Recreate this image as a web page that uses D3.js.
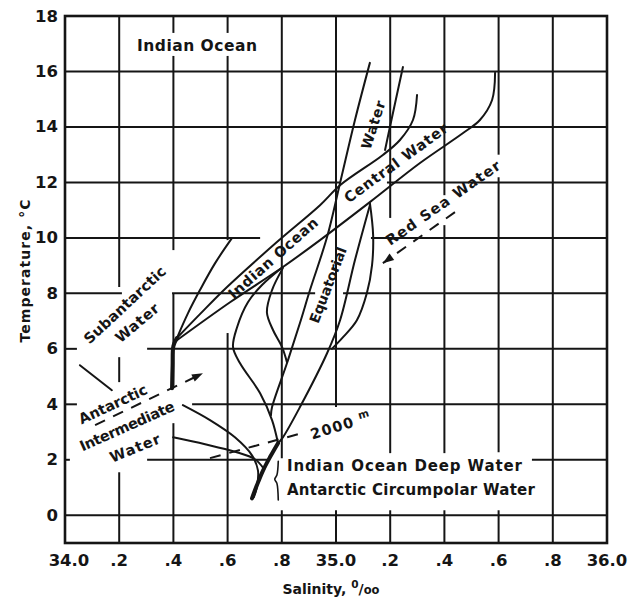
<!DOCTYPE html>
<html><head><meta charset="utf-8">
<script src="https://cdn.jsdelivr.net/npm/d3@7"></script>
<style>
body{margin:0;background:#fff}
svg{display:block}
text{font-family:"DejaVu Sans",sans-serif;fill:#151515;font-weight:bold}
</style>
</head><body>
<svg id="chart" width="633" height="598"></svg>
<script>
// ---------- data (salinity ‰, temperature °C) ----------
const xTicks = [34.0,34.2,34.4,34.6,34.8,35.0,35.2,35.4,35.6,35.8,36.0];
const xTickLabels = ["34.0",".2",".4",".6",".8","35.0",".2",".4",".6",".8","36.0"];
const yTicks = [0,2,4,6,8,10,12,14,16,18];
const yTickLabels = ["0","2","4","6","8","10","12","14","16","18"];

const centralUpper = [[34.413,6.39],[34.498,7.25],[34.598,8.23],[34.782,9.85],[34.941,11.18],[35.015,11.90],[35.173,12.99],[35.236,13.53],[35.284,14.25],[35.299,15.15]];
const centralLower = [[34.413,6.31],[34.609,7.68],[34.804,8.95],[34.941,9.92],[35.125,11.29],[35.310,12.70],[35.469,13.78],[35.531,14.25],[35.576,14.97],[35.587,15.95]];
const subantarctic = [[34.413,6.39],[34.454,7.29],[34.498,8.12],[34.554,9.09],[34.616,9.99]];
const intermediateCore = [[34.413,6.39],[34.400,6.10],[34.397,5.40],[34.395,4.58]];
const equatorialLeft = [[35.125,16.31],[35.070,14.25],[35.015,11.98],[34.967,10.03],[34.904,8.12],[34.867,6.93],[34.819,5.48],[34.764,3.90],[34.760,3.61]];
const equatorialRightUpper = [[35.247,16.16],[35.199,14.00],[35.181,13.17]];
const equatorialRightLower = [[35.125,11.18],[35.070,9.20],[35.015,7.03],[34.967,5.84],[34.867,3.90],[34.804,2.81],[34.786,2.60]];
const redSea = [[35.125,11.26],[35.137,10.10],[35.133,9.02],[35.114,8.01],[35.077,7.03],[35.026,6.42],[34.985,6.00]];
const loopCurve = [[34.804,8.95],[34.727,8.30],[34.675,7.68],[34.635,6.78],[34.620,6.06],[34.646,5.48],[34.720,4.40],[34.764,3.43],[34.786,2.60]];
const lensCurve = [[34.804,8.91],[34.764,8.12],[34.745,7.32],[34.768,6.67],[34.801,6.06],[34.819,5.52]];
const deepWater = [[34.786,2.60],[34.756,2.09],[34.731,1.62],[34.708,1.08],[34.690,0.61]];
const intermediateA = [[34.435,3.97],[34.535,3.43],[34.627,2.81],[34.690,2.16],[34.712,1.62],[34.708,1.01],[34.697,0.65]];
const intermediateB = [[34.399,2.81],[34.517,2.56],[34.627,2.29],[34.701,2.02],[34.735,1.66]];
const depth2000 = [[34.535,2.06],[34.886,2.99]];
const redSeaArrow = [[35.439,10.93],[35.173,9.09]];
const intermediateArrow = [[34.111,3.25],[34.509,5.12]];
const leader = [[34.055,5.41],[34.173,4.51]];
const brace = [[34.787,1.95],[34.782,1.45],[34.774,1.30],[34.782,1.15],[34.787,0.55]];

// grid segments: vertical [S, Tfrom, Tto], horizontal [T, Sfrom, Sto]
const vGrid = [
  [34.2,18,8.23],[34.2,5.70,4.80],[34.2,1.55,-1],
  [34.4,18,17.39],[34.4,16.56,9.56],[34.4,8.01,4.58],[34.4,3.32,-1],
  [34.6,18,17.39],[34.6,16.56,9.92],[34.6,6.57,-1],
  [34.8,18,2.06],[34.8,0.18,-1],
  [35.0,18,3.90],[35.0,0.18,-1],
  [35.2,18,10.72],[35.2,8.92,2.24],[35.2,0.18,-1],
  [35.4,18,11.54],[35.4,10.46,2.24],[35.4,0.18,-1],
  [35.6,18,13.0],[35.6,12.19,2.27],[35.6,0.18,-1],
  [35.8,18,-1]
];
const hGrid = [
  [16,34,36],[14,34,36],[12,34,35.015],[12,35.188,36],
  [10,34,34.72],[10,35.129,36],
  [8,34,34.21],[8,34.395,34.923],[8,35.026,36],
  [6,34,34.044],[6,34.303,36],
  [4,34,34.044],[4,34.469,36],
  [2,34,34.018],[2,34.303,34.756],[2,35.723,36],
  [0,34,36]
];

// ---------- drawing ----------
const svg = d3.select("#chart");
const x = d3.scaleLinear().domain([34,36]).range([65,607]);
const y = d3.scaleLinear().domain([-1,18]).range([543,16]);
const ink = "#151515";

const g = svg.append("g");
g.selectAll("line.v").data(vGrid).join("line")
  .attr("x1",d=>x(d[0])).attr("x2",d=>x(d[0]))
  .attr("y1",d=>y(d[1])).attr("y2",d=>y(d[2]))
  .attr("stroke",ink).attr("stroke-width",2);
g.selectAll("line.h").data(hGrid).join("line")
  .attr("y1",d=>y(d[0])).attr("y2",d=>y(d[0]))
  .attr("x1",d=>x(d[1])).attr("x2",d=>x(d[2]))
  .attr("stroke",ink).attr("stroke-width",2);

svg.append("rect").attr("x",x(34)).attr("y",y(18))
  .attr("width",x(36)-x(34)).attr("height",y(-1)-y(18))
  .attr("fill","none").attr("stroke",ink).attr("stroke-width",2.6);

// axes tick labels
svg.append("g").selectAll("text").data(xTicks).join("text")
  .attr("x",(d,i)=>x(d)+(i===0?4:0)).attr("y",566).attr("text-anchor","middle")
  .style("font-size","16.5px").text((d,i)=>xTickLabels[i]);
svg.append("g").selectAll("text").data(yTicks).join("text")
  .attr("x",58).attr("y",d=>y(d)).attr("text-anchor","end").attr("dominant-baseline","central")
  .style("font-size","16.5px").text((d,i)=>yTickLabels[i]);

// curves
const line = d3.line().x(d=>x(d[0])).y(d=>y(d[1])).curve(d3.curveCatmullRom.alpha(0.5));
const curves = [
  [centralUpper,2],[centralLower,2],[subantarctic,2],[intermediateCore,4],
  [equatorialLeft,2],[equatorialRightUpper,2],[equatorialRightLower,2],[redSea,2],[loopCurve,2],[lensCurve,2],
  [deepWater,4],[intermediateA,2],[intermediateB,2],[leader,2],[brace,1.6]
];
svg.append("g").selectAll("path").data(curves).join("path")
  .attr("d",d=>line(d[0])).attr("fill","none").attr("stroke",ink)
  .attr("stroke-width",d=>d[1]).attr("stroke-linecap","round").attr("stroke-linejoin","round");

// dashed lines with arrowheads
const straight = d3.line().x(d=>x(d[0])).y(d=>y(d[1]));
function dashed(pts, arrow){
  svg.append("path").attr("d",straight(pts)).attr("fill","none").attr("stroke",ink)
    .attr("stroke-width",2).attr("stroke-dasharray","11,9");
  if(arrow){
    const p0=[x(pts[0][0]),y(pts[0][1])], p1=[x(pts[1][0]),y(pts[1][1])];
    const ang=Math.atan2(p1[1]-p0[1],p1[0]-p0[0]);
    const L=11,W=4;
    const bx=p1[0]-L*Math.cos(ang), by=p1[1]-L*Math.sin(ang);
    const nx=-Math.sin(ang), ny=Math.cos(ang);
    svg.append("path").attr("d",`M${p1[0]},${p1[1]}L${bx+nx*W},${by+ny*W}L${bx-nx*W},${by-ny*W}Z`).attr("fill",ink);
  }
}
dashed(depth2000,false);
dashed(redSeaArrow,true);
dashed(intermediateArrow,true);

// labels
const labels = [
  {t:"Indian Ocean", s:34.487, T:16.92, a:0, len:120, fs:15.5},
  {t:"Water", s:35.137, T:14.07, a:-72, len:50, fs:14},
  {t:"Central Water", s:35.221, T:12.70, a:-36, len:124, fs:14.5},
  {t:"Indian Ocean", s:34.768, T:9.27, a:-41.5, len:114, fs:14.5},
  {t:"Red Sea Water", s:35.395, T:11.26, a:-35, len:136, fs:14.5},
  {t:"Equatorial", s:34.970, T:8.30, a:-69, len:80, fs:14},
  {t:"Subantarctic", s:34.221, T:7.58, a:-43, len:106, fs:14.5},
  {t:"Water", s:34.266, T:6.93, a:-40, len:52, fs:14.5},
  {t:"Antarctic", s:34.177, T:4.00, a:-25, len:74, fs:14.5},
  {t:"Intermediate", s:34.229, T:3.21, a:-24, len:102, fs:14.5},
  {t:"Water", s:34.258, T:2.42, a:-22, len:53, fs:14.5},
  {t:"2000", s:34.985, T:3.14, a:-17, len:44, fs:14.5}
];
svg.append("g").selectAll("text").data(labels).join("text")
  .attr("transform",d=>`translate(${x(d.s)},${y(d.T)}) rotate(${d.a})`)
  .attr("text-anchor","middle").attr("dominant-baseline","central")
  .attr("textLength",d=>d.len).attr("lengthAdjust","spacing")
  .style("font-size",d=>d.fs+"px").text(d=>d.t);
svg.append("text").attr("transform",`translate(${x(35.105)},${y(3.52)}) rotate(-17)`)
  .attr("text-anchor","middle").style("font-size","10.5px").text("m");

svg.append("text").attr("x",x(34.819)).attr("y",y(1.77)).attr("dominant-baseline","central")
  .attr("textLength",235).attr("lengthAdjust","spacing").style("font-size","15px").text("Indian Ocean Deep Water");
svg.append("text").attr("x",x(34.819)).attr("y",y(0.90)).attr("dominant-baseline","central")
  .attr("textLength",248).attr("lengthAdjust","spacing").style("font-size","15px").text("Antarctic Circumpolar Water");

// axis titles
svg.append("text").attr("transform","translate(25,271) rotate(-90)")
  .attr("text-anchor","middle").attr("dominant-baseline","central")
  .attr("textLength",143).attr("lengthAdjust","spacing")
  .style("font-size","14px").text("Temperature, °C");
const xt = svg.append("text").attr("x",331).attr("y",594).attr("text-anchor","middle").style("font-size","14px");
xt.append("tspan").text("Salinity, ");
xt.append("tspan").attr("dy",-6).style("font-size","10.5px").text("0");
xt.append("tspan").attr("dy",6).text("/");
xt.append("tspan").style("font-size","11.5px").text("oo");
</script>
</body></html>
